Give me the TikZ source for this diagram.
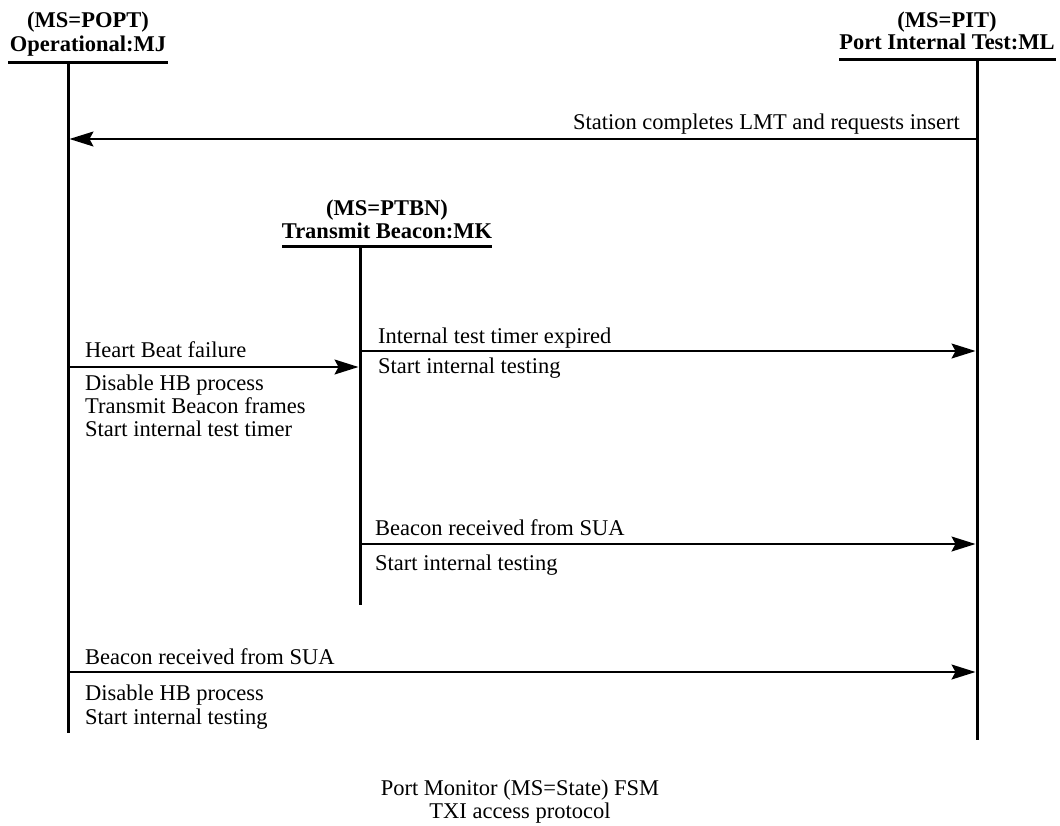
\documentclass[tikz,border=0pt]{standalone}
\usepackage{fontspec}
\setmainfont{Liberation Serif}
\usetikzlibrary{arrows.meta}
\begin{document}
\begin{tikzpicture}[x=1pt,y=-1pt,
  font=\fontsize{22.5}{23}\selectfont,
  lifeline/.style={line width=3pt},
  headrule/.style={line width=3pt},
  msg/.style={line width=1.6pt,-{Stealth[length=24pt,width=15pt,inset=4pt]}},
  lbl/.style={anchor=base west,inner sep=0pt},
  lblr/.style={anchor=base east,inner sep=0pt},
  head/.style={anchor=base,inner sep=0pt,font=\fontsize{22.5}{23}\selectfont\bfseries},
  captiontext/.style={anchor=base,inner sep=0pt}]
\useasboundingbox (0,0) rectangle (1060,825);

% state headers
\node[head] (poptA) at (88,27) {(MS=POPT)};
\node[head] (poptB) at (88,51) {Operational:MJ};
\node[head] (pitA) at (947,27) {(MS=PIT)};
\node[head] (pitB) at (947,49) {Port Internal Test:ML};
\node[head] (ptbnA) at (387,215) {(MS=PTBN)};
\node[head] (ptbnB) at (387,238) {Transmit Beacon:MK};

\draw[headrule] (8,62) -- (168,62);
\draw[headrule] (839,59) -- (1056,59);
\draw[headrule] (282,246) -- (492,246);

% lifelines
\coordinate (poptTop) at (68,62);   \coordinate (poptBot) at (68,733);
\coordinate (pitTop) at (977,59);   \coordinate (pitBot) at (977,740);
\coordinate (ptbnTop) at (360,246); \coordinate (ptbnBot) at (360,605);
\draw[lifeline] (poptTop) -- (poptBot);
\draw[lifeline] (pitTop) -- (pitBot);
\draw[lifeline] (ptbnTop) -- (ptbnBot);

% message end points on the lifelines
\coordinate (m1s) at (977,139); \coordinate (m1e) at (69.5,139);
\coordinate (m2s) at (68,367);  \coordinate (m2e) at (358.5,367);
\coordinate (m3s) at (360,351); \coordinate (m3e) at (975.5,351);
\coordinate (m4s) at (360,544); \coordinate (m4e) at (975.5,544);
\coordinate (m5s) at (68,672);  \coordinate (m5e) at (975.5,672);

\draw[msg] (m1s) -- (m1e);
\draw[msg] (m2s) -- (m2e);
\draw[msg] (m3s) -- (m3e);
\draw[msg] (m4s) -- (m4e);
\draw[msg] (m5s) -- (m5e);

% labels
\node[lblr] (t1) at (960,129) {Station completes LMT and requests insert};
\node[lbl] (t2) at (85,357) {Heart Beat failure};
\node[lbl] (t2a) at (85,390) {Disable HB process};
\node[lbl] (t2b) at (85,413) {Transmit Beacon frames};
\node[lbl] (t2c) at (85,436) {Start internal test timer};
\node[lbl] (t3) at (378,343) {Internal test timer expired};
\node[lbl] (t3a) at (378,373) {Start internal testing};
\node[lbl] (t4) at (375,535) {Beacon received from SUA};
\node[lbl] (t4a) at (375,570) {Start internal testing};
\node[lbl] (t5) at (85,664) {Beacon received from SUA};
\node[lbl] (t5a) at (85,700) {Disable HB process};
\node[lbl] (t5b) at (85,724) {Start internal testing};

% caption
\node[captiontext] (c1) at (520,795) {Port Monitor (MS=State) FSM};
\node[captiontext] (c2) at (520,818) {TXI access protocol};
\end{tikzpicture}
\end{document}
